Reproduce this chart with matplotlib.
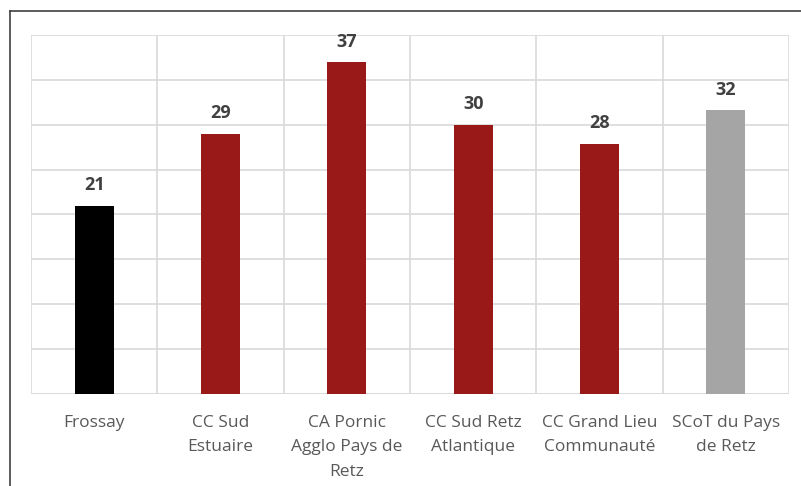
import matplotlib.pyplot as plt
from matplotlib.lines import Line2D

categories = ["Frossay", "CC Sud\nEstuaire", "CA Pornic\nAgglo Pays de\nRetz",
              "CC Sud Retz\nAtlantique", "CC Grand Lieu\nCommunauté", "SCoT du Pays\nde Retz"]
values = [21.0, 29.0, 37.0, 30.0, 27.9, 31.6]
colors = ["#000000", "#991919", "#991919", "#991919", "#991919", "#A5A5A5"]

plt.rcParams["font.family"] = ["Open Sans", "DejaVu Sans"]

fig = plt.figure(figsize=(8.01, 4.86), dpi=100)
ax = fig.add_axes([31 / 801, 92 / 486, 758 / 801, 359 / 486])

x = list(range(len(values)))
bars = ax.bar(x, values, width=0.31, color=colors, zorder=3)
for b, v in zip(bars, values):
    ax.annotate(f"{v:.0f}", (b.get_x() + b.get_width() / 2, v), xytext=(0, 11),
                textcoords="offset points", ha="center", va="baseline",
                fontsize=13, fontweight="bold", color="#404040")

ax.set_xlim(-0.5, len(values) - 0.5)
ax.set_ylim(0, 40)
ax.set_yticks(range(0, 41, 5))
ax.set_xticks([i + 0.5 for i in range(-1, len(values))], minor=False)
ax.set_xticklabels([""] * (len(values) + 1))
ax.set_xticks(x, minor=True)
ax.set_xticklabels(categories, minor=True, fontsize=12.5, color="#595959", linespacing=1.72)
ax.tick_params(axis="x", which="both", length=0)
ax.tick_params(axis="x", which="minor", pad=15)
ax.tick_params(axis="y", length=0, labelleft=False)
ax.grid(True, which="major", color="#D9D9D9", linewidth=1.2, zorder=0)
for s in ax.spines.values():
    s.set_visible(False)
ax.axhline(0, color="#D9D9D9", linewidth=1.2, zorder=1)

# outer frame (left and top edges only visible)
fig.add_artist(Line2D([10 / 801, 10 / 801], [0, 1 - 11 / 486], transform=fig.transFigure, color="#404040", lw=1.2))
fig.add_artist(Line2D([10 / 801, 1], [1 - 11 / 486, 1 - 11 / 486], transform=fig.transFigure, color="#404040", lw=1.2))

fig.savefig("out.png", dpi=100)
